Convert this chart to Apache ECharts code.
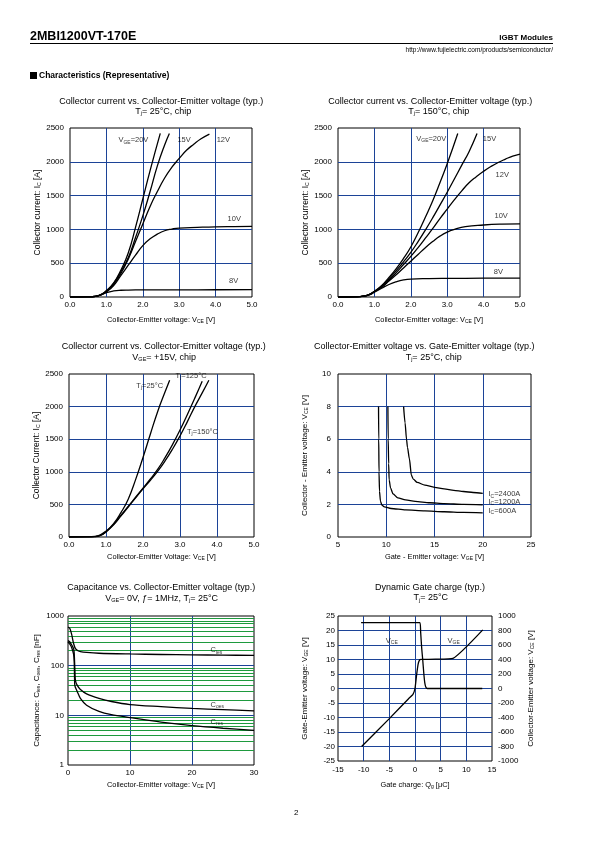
<!DOCTYPE html>
<html><head><meta charset="utf-8">
<script src="https://cdn.jsdelivr.net/npm/echarts/dist/echarts.min.js"></script>
<style>
html,body{margin:0;padding:0;background:#fff;}
#page{position:relative;width:595px;height:842px;background:#fff;font-family:"Liberation Sans",Arial,sans-serif;color:#000;overflow:hidden;}
#chart{position:absolute;left:0;top:0;width:595px;height:842px;}
.t{position:absolute;white-space:nowrap;line-height:1;}
</style></head>
<body><div id="page">
<div id="chart"></div>
<div class="t" style="left:30px;top:30px;font-size:12.5px;font-weight:bold;">2MBI1200VT-170E</div>
<div style="position:absolute;left:30px;top:43px;width:523px;height:1px;background:#000;"></div>
<div class="t" style="right:42px;top:34px;font-size:8px;font-weight:bold;">IGBT Modules</div>
<div class="t" style="right:42px;top:47px;font-size:6.5px;">http://www.fujielectric.com/products/semiconductor/</div>
<div class="t" style="left:30px;top:71px;font-size:8.5px;font-weight:bold;"><span style="display:inline-block;width:7px;height:7px;background:#000;vertical-align:-1px;margin-right:2px;"></span>Characteristics (Representative)</div>
<div class="t" style="left:294px;top:809px;font-size:8px;">2</div>
</div>
<script>
// ---------- data ----------
// Chart 1: Ic vs Vce, Tj=25C (x: V, y: A)
const c1_vge20 = [[0,0],[0.5,2],[0.7,10],[0.85,35],[1.0,95],[1.2,210],[1.4,400],[1.6,650],[1.8,1030],[2.0,1450],[2.2,1870],[2.48,2420]];
const c1_vge15 = [[0,0],[0.5,2],[0.7,10],[0.85,35],[1.0,90],[1.2,200],[1.4,380],[1.6,580],[1.8,880],[2.0,1200],[2.2,1560],[2.4,1940],[2.6,2250],[2.73,2420]];
const c1_vge12 = [[0,0],[0.5,2],[0.7,10],[0.85,33],[1.0,85],[1.2,190],[1.4,350],[1.6,560],[1.8,820],[2.0,1080],[2.2,1340],[2.4,1560],[2.6,1760],[2.8,1920],[3.0,2050],[3.2,2170],[3.4,2260],[3.6,2340],[3.83,2410]];
const c1_vge10 = [[0,0],[0.5,2],[0.7,10],[0.85,30],[1.0,75],[1.2,170],[1.4,320],[1.6,470],[1.8,620],[2.0,760],[2.2,860],[2.4,930],[2.6,980],[2.8,1005],[3.0,1020],[3.5,1030],[4.0,1038],[4.5,1042],[5.0,1045]];
const c1_vge8  = [[0,0],[0.5,2],[0.7,10],[0.85,30],[1.0,65],[1.2,90],[1.4,100],[1.6,103],[2.0,105],[3.0,106],[4.0,107],[5.0,108]];
// Chart 2: Ic vs Vce, Tj=150C
const c2_vge20 = [[0,0],[0.5,3],[0.7,12],[0.85,35],[1.0,85],[1.2,170],[1.4,290],[1.6,420],[1.8,570],[2.0,740],[2.2,950],[2.4,1180],[2.6,1420],[2.8,1690],[3.0,1970],[3.29,2418]];
const c2_vge15 = [[0,0],[0.5,3],[0.7,12],[0.85,34],[1.0,82],[1.2,160],[1.4,270],[1.6,390],[1.8,520],[2.0,660],[2.2,820],[2.4,990],[2.6,1170],[2.8,1360],[3.0,1550],[3.2,1750],[3.4,1950],[3.6,2150],[3.82,2418]];
const c2_vge12 = [[0,0],[0.5,3],[0.7,12],[0.85,33],[1.0,80],[1.2,150],[1.4,250],[1.6,360],[1.8,480],[2.0,600],[2.2,730],[2.4,870],[2.6,1010],[2.8,1160],[3.0,1300],[3.2,1440],[3.4,1570],[3.6,1690],[3.8,1780],[4.0,1860],[4.2,1930],[4.4,1990],[4.6,2040],[4.8,2085],[5.0,2115]];
const c2_vge10 = [[0,0],[0.5,3],[0.7,12],[0.85,32],[1.0,78],[1.2,145],[1.4,235],[1.6,330],[1.8,430],[2.0,530],[2.2,630],[2.4,730],[2.6,820],[2.8,900],[3.0,960],[3.2,1000],[3.5,1040],[4.0,1065],[4.5,1078],[5.0,1082]];
const c2_vge8  = [[0,0],[0.5,3],[0.7,12],[0.85,30],[1.0,70],[1.2,130],[1.4,185],[1.6,225],[1.8,252],[2.0,265],[2.5,272],[3.0,275],[4.0,278],[5.0,280]];
// Chart 3: Ic vs Vce, Vge=15V
const c3_t25  = [[0,0],[0.5,2],[0.7,10],[0.85,35],[1.0,90],[1.2,200],[1.4,370],[1.6,580],[1.8,880],[2.0,1220],[2.2,1580],[2.4,1930],[2.6,2230],[2.72,2405]];
const c3_t125 = [[0,0],[0.5,1],[0.7,5],[0.85,25],[1.0,80],[1.2,190],[1.4,330],[1.6,470],[1.8,610],[2.0,750],[2.2,890],[2.4,1040],[2.6,1220],[2.8,1420],[3.0,1640],[3.2,1880],[3.4,2130],[3.6,2390]];
const c3_t150 = [[0,0],[0.5,1],[0.7,5],[0.85,24],[1.0,78],[1.2,185],[1.4,320],[1.6,460],[1.8,600],[2.0,740],[2.2,870],[2.4,1010],[2.6,1170],[2.8,1350],[3.0,1550],[3.2,1770],[3.4,2000],[3.6,2210],[3.78,2405]];
// Chart 4: Vce vs Vge
const c4_i600  = [[9.2,8.0],[9.22,6],[9.25,4],[9.3,2.8],[9.4,2.2],[9.55,1.95],[9.8,1.85],[10.5,1.75],[12,1.66],[14,1.6],[16,1.55],[18,1.51],[20,1.48]];
const c4_i1200 = [[10.17,8.0],[10.2,6],[10.25,4.5],[10.3,3.5],[10.45,3.0],[10.7,2.65],[11.2,2.4],[12,2.28],[13,2.19],[14.5,2.1],[16,2.05],[18,2.0],[20,1.97]];
const c4_i2400 = [[11.8,8.0],[11.95,7],[12.1,6],[12.2,5.5],[12.4,4.8],[12.6,3.8],[12.8,3.55],[13.2,3.35],[14,3.18],[15,3.05],[16,2.95],[17,2.86],[18,2.79],[19,2.73],[20,2.68]];
// Chart 5: Capacitance (nF) vs Vce
const c5_cies = [[0,600],[0.3,560],[0.6,420],[0.9,280],[1.2,220],[1.6,200],[2,192],[3,185],[5,178],[10,172],[15,168],[20,165],[25,163],[30,161]];
const c5_coes = [[0,320],[0.3,300],[0.6,260],[0.9,220],[1.0,180],[1.1,90],[1.2,50],[1.5,40],[2,33],[3,27],[5,22],[7,19],[10,16.5],[15,15],[20,13.8],[25,13],[30,12.3]];
const c5_cres = [[0,300],[0.3,270],[0.6,230],[0.9,170],[1.0,120],[1.05,60],[1.1,40],[1.5,30],[2,22],[3,16],[5,12],[7,10.3],[10,9],[15,7.3],[20,6.2],[25,5.5],[30,5.0]];
const c5_minor = [2,3,4,5,6,7,8,9,20,30,40,50,60,70,80,90,200,300,400,500,600,700,800,900];
// Chart 6: Gate charge (uC), Vge (V, left), Vce (V, right)
const c6_vge = [[-10.4,-20],[-5,-10.4],[-1.3,-3.6],[-0.4,-2.0],[0,0],[0.3,4.5],[0.6,8.3],[0.9,9.9],[1.2,10.05],[4,10.1],[7.4,10.4],[13.2,20.2]];
const c6_vce = [[-10.5,910],[0.95,910],[1.1,780],[1.3,560],[1.5,400],[1.7,220],[1.9,80],[2.1,20],[2.4,0],[13.1,0]];

// ---------- style ----------
const FONT = '"Liberation Sans", Arial, sans-serif';
const BLUE = '#1c4397', GREEN = '#1e9a3e';
const SUB = {s:{fontSize:5, fontFamily:FONT, color:'#000', verticalAlign:'bottom', lineHeight:9}};
const SUB6 = {s:{fontSize:5.5, fontFamily:FONT, color:'#000', verticalAlign:'bottom', lineHeight:10}};

function grid(l,t,w,h){return {left:l,top:t,width:w,height:h,show:true,borderColor:'#000',borderWidth:1};}
const plain = v => String(v);
const fix1 = v => v.toFixed(1);
function axis(type, gi, min, max, interval, name, gap, margin, fmt, nameSize, extra){
  const a = {
    type:type==='log'?'log':'value', gridIndex:gi, min:min, max:max,
    axisLine:{show:false}, axisTick:{show:false},
    splitLine:{show:true, showMinLine:false, showMaxLine:false, lineStyle:{color:BLUE,width:1}},
    axisLabel:{color:'#000', fontSize:8, fontFamily:FONT, margin:margin, formatter:fmt||plain},
    name:name, nameLocation:'middle', nameGap:gap,
    nameTextStyle:{color:'#000', fontSize:nameSize||8, fontFamily:FONT, rich:SUB}
  };
  if (type==='log') a.logBase = 10; else a.interval = interval;
  return Object.assign(a, extra||{});
}
function curve(xi, yi, data, smooth, extra){
  return Object.assign({type:'line', xAxisIndex:xi, yAxisIndex:yi, data:data, showSymbol:false, symbol:'none',
    smooth:smooth, silent:true, z:3, lineStyle:{color:'#000', width:1.3}}, extra||{});
}
function tag(xi, yi, x, y, text){
  return {type:'scatter', xAxisIndex:xi, yAxisIndex:yi, data:[[x,y]], symbolSize:0, silent:true, z:4,
    label:{show:true, position:[0,0], align:'left', verticalAlign:'middle', formatter:text, color:'#000', fontSize:7.5, fontFamily:FONT, rich:SUB}};
}
function tl(text, cx, cy){
  return {text:text, left:cx, top:cy-5, textAlign:'center', padding:0, itemGap:0,
    textStyle:{fontSize:9, fontWeight:'normal', color:'#000', fontFamily:FONT, lineHeight:10, rich:SUB6}};
}

const option = {
  animation:false,
  backgroundColor:'transparent',
  title:[
    tl('Collector current vs. Collector-Emitter voltage (typ.)',161.3,101.7),
    tl('T{s|j}= 25°C, chip',163.3,111.7),
    tl('Collector current vs. Collector-Emitter voltage (typ.)',430.2,101.7),
    tl('T{s|j}= 150°C, chip',438.8,111.7),
    tl('Collector current vs. Collector-Emitter voltage (typ.)',163.7,346.7),
    tl('V{s|GE}= +15V, chip',164.2,357.7),
    tl('Collector-Emitter voltage vs. Gate-Emitter voltage (typ.)',424.2,346.7),
    tl('T{s|j}= 25°C, chip',433.7,357.7),
    tl('Capacitance vs. Collector-Emitter voltage (typ.)',161.3,588),
    tl('V{s|GE}= 0V, ƒ= 1MHz, T{s|j}= 25°C',161.7,598.7),
    tl('Dynamic Gate charge (typ.)',430,588),
    tl('T{s|j}= 25°C',430.8,598)
  ],
  grid:[
    grid(70,128,182,169),
    grid(338,128,182,169),
    grid(69,374,185,163),
    grid(338,374,193,163),
    grid(68,616,186,149),
    grid(338,616,154,145)
  ],
  xAxis:[
    axis('value',0,0,5,1,'Collector-Emitter voltage: V{s|CE} [V]',18,4,fix1,7.4),
    axis('value',1,0,5,1,'Collector-Emitter voltage: V{s|CE} [V]',18,4,fix1,7.4),
    axis('value',2,0,5,1,'Collector-Emitter Voltage: V{s|CE} [V]',15,4,fix1,7.4),
    axis('value',3,5,25,5,'Gate - Emitter voltage: V{s|GE} [V]',15,4,plain,7.4),
    axis('value',4,0,30,10,'Collector-Emitter voltage: V{s|CE} [V]',15,4,plain,7.4),
    axis('value',5,-15,15,5,'Gate charge: Q{s|g} [μC]',19,5,plain,7.4)
  ],
  yAxis:[
    axis('value',0,0,2500,500,'Collector current: I{s|C} [A]',28,6,plain,8.5),
    axis('value',1,0,2500,500,'Collector current: I{s|C} [A]',28,6,plain,8.5),
    axis('value',2,0,2500,500,'Collector Current: I{s|C} [A]',28,6,plain,8.5),
    axis('value',3,0,10,2,'Collector - Emitter voltage: V{s|CE} [V]',29,7,plain,8),
    axis('log',4,1,1000,null,'Capacitance: C{s|ies}, C{s|oes}, C{s|res} [nF]',27,4,plain,8),
    axis('value',5,-25,25,5,'Gate-Emitter voltage: V{s|GE} [V]',29,3,plain,8),
    axis('value',5,-1000,1000,200,'Collector-Emitter voltage: V{s|CE} [V]',34,6,plain,8,{position:'right',nameRotate:90,splitLine:{show:false}})
  ],
  series:[
    curve(0,0,c1_vge20,0.5), curve(0,0,c1_vge15,0.5), curve(0,0,c1_vge12,0.5), curve(0,0,c1_vge10,0.5), curve(0,0,c1_vge8,0.5),
    tag(0,0,1.33,2318,'V{s|GE}=20V'), tag(0,0,2.95,2318,'15V'), tag(0,0,4.03,2318,'12V'), tag(0,0,4.33,1153,'10V'), tag(0,0,4.37,231,'8V'),

    curve(1,1,c2_vge20,0.5), curve(1,1,c2_vge15,0.5), curve(1,1,c2_vge12,0.5), curve(1,1,c2_vge10,0.5), curve(1,1,c2_vge8,0.5),
    tag(1,1,2.15,2337,'V{s|GE}=20V'), tag(1,1,3.98,2337,'15V'), tag(1,1,4.33,1809,'12V'), tag(1,1,4.30,1192,'10V'), tag(1,1,4.28,364,'8V'),

    curve(2,2,c3_t25,0.5), curve(2,2,c3_t125,0.5), curve(2,2,c3_t150,0.5),
    tag(2,2,1.82,2321,'T{s|j}=25°C'), tag(2,2,2.88,2474,'T{s|j}=125°C'), tag(2,2,3.19,1615,'T{s|j}=150°C'),

    curve(3,3,c4_i600,0.25,{smoothMonotone:'x'}), curve(3,3,c4_i1200,0.25,{smoothMonotone:'x'}), curve(3,3,c4_i2400,0.25,{smoothMonotone:'x'}),
    tag(3,3,20.6,2.62,'I{s|C}=2400A'), tag(3,3,20.6,2.17,'I{s|C}=1200A'), tag(3,3,20.6,1.61,'I{s|C}=600A'),

    curve(4,4,c5_cies,0.3,{markLine:{silent:true, symbol:'none', z:1, label:{show:false},
      lineStyle:{color:GREEN, type:'solid', width:1}, data:c5_minor.map(v=>({yAxis:v}))}}),
    curve(4,4,c5_coes,0.3), curve(4,4,c5_cres,0.3),
    tag(4,4,22.97,205,'C{s|ies}'), tag(4,4,23.0,16.4,'C{s|oes}'), tag(4,4,23.0,7.45,'C{s|res}'),

    curve(5,5,c6_vge,0.15), curve(5,6,c6_vce,0.2),
    tag(5,5,-5.69,16.5,'V{s|CE}'), tag(5,5,6.34,16.5,'V{s|GE}')
  ]
};
const chart = echarts.init(document.getElementById('chart'), null, {renderer:'canvas', width:595, height:842});
chart.setOption(option);
</script>
</body></html>
